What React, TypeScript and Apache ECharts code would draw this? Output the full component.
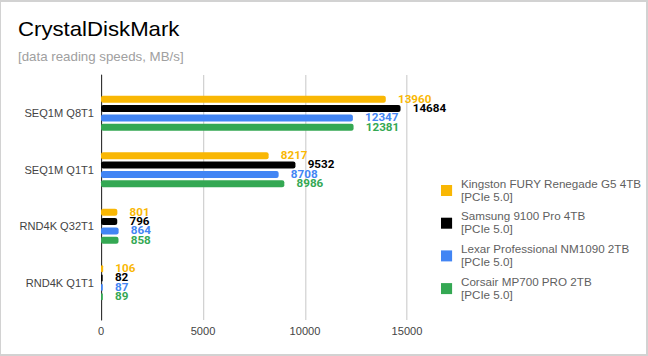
import React, { useEffect, useRef } from "react";
import * as echarts from "echarts";

const categories = ["SEQ1M Q8T1", "SEQ1M Q1T1", "RND4K Q32T1", "RND4K Q1T1"];
const seriesNames = [
  "Kingston FURY Renegade G5 4TB\n[PCIe 5.0]",
  "Samsung 9100 Pro 4TB\n[PCIe 5.0]",
  "Lexar Professional NM1090 2TB\n[PCIe 5.0]",
  "Corsair MP700 PRO 2TB\n[PCIe 5.0]",
];
const kingston = [13960, 8217, 801, 106];
const samsung = [14684, 9532, 796, 82];
const lexar = [12347, 8708, 864, 87];
const corsair = [12381, 8986, 858, 89];
const colors = ["#f9b704", "#000000", "#4285f4", "#34a853"];
const xTicks = { min: 0, max: 15000, interval: 5000 };

const SX = 1.11;
const W = 648;
const H = 356;

export default function App() {
  const ref = useRef<HTMLDivElement>(null);
  useEffect(() => {
    const chart = echarts.init(ref.current!, null, { renderer: "svg" });
    const values = [kingston, samsung, lexar, corsair];
    const font = "Arial, 'Liberation Sans', sans-serif";
    chart.setOption({
      animation: false,
      backgroundColor: "#ffffff",
      title: [
        {
          text: "CrystalDiskMark",
          left: 18 / SX,
          top: 19,
          padding: 0,
          textStyle: { fontSize: 20, fontWeight: "normal", color: "#000", fontFamily: font },
        },
        {
          text: "[data reading speeds, MB/s]",
          left: 18 / SX,
          top: 51,
          padding: 0,
          textStyle: { fontSize: 12, fontWeight: "normal", color: "#a0a0a0", fontFamily: font },
        },
      ],
      legend: {
        orient: "vertical",
        left: 441 / SX,
        top: 171,
        padding: 0,
        itemWidth: 10,
        itemHeight: 11,
        itemGap: -6.3,
        icon: "rect",
        data: seriesNames,
        textStyle: {
          fontSize: 10.5,
          color: "#5f5f5f",
          fontFamily: font,
          lineHeight: 13,
          padding: [13, 0, 0, 3],
        },
      },
      grid: [
        { left: 101 / SX, top: 85, width: 306 / SX, height: 226, containLabel: false },
        { left: 101 / SX, top: 75, width: 306 / SX, height: 245, containLabel: false },
      ],
      xAxis: [
        { type: "value", gridIndex: 0, ...xTicks, show: false },
        {
          type: "value",
          gridIndex: 1,
          ...xTicks,
          axisLine: { show: false },
          axisTick: { show: false },
          splitLine: { show: true, lineStyle: { color: "#cccccc", width: 1 } },
          axisLabel: {
            fontSize: 10,
            color: "#444",
            fontFamily: font,
            margin: 6,
            formatter: (v: number) => String(v),
          },
        },
      ],
      yAxis: [
        {
          type: "category",
          gridIndex: 0,
          data: categories,
          inverse: true,
          axisLine: { show: false },
          axisTick: { show: false },
          splitLine: { show: false },
          axisLabel: { fontSize: 10, color: "#444", fontFamily: font, margin: 6.3 },
        },
        {
          type: "category",
          gridIndex: 1,
          data: categories,
          inverse: true,
          axisLine: { show: true, lineStyle: { color: "#333", width: 1 } },
          axisTick: { show: false },
          splitLine: { show: false },
          axisLabel: { show: false },
        },
      ],
      series: seriesNames.map((name, i) => ({
        name,
        type: "bar",
        xAxisIndex: 0,
        yAxisIndex: 0,
        data: values[i],
        barWidth: 7,
        barGap: "33%",
        itemStyle: { color: colors[i], borderRadius: 2 },
        label: {
          show: true,
          position: "right",
          distance: 11,
          color: colors[i],
          fontWeight: "bold",
          fontSize: 10.5,
          lineHeight: 9,
          fontFamily: "Roboto, Arial, sans-serif",
        },
      })),
    });
    return () => chart.dispose();
  }, []);
  return (
    <div
      style={{
        position: "fixed",
        left: 0,
        top: 0,
        width: W,
        height: H,
        overflow: "hidden",
        background: "#fff",
      }}
    >
      <div
        ref={ref}
        style={{ width: W / SX, height: H, transform: `scaleX(${SX})`, transformOrigin: "0 0" }}
      />
      <div
        style={{
          position: "absolute",
          left: 0,
          top: 0,
          width: W,
          height: H,
          boxSizing: "border-box",
          borderTop: "2px solid #d2d2d2",
          borderLeft: "1px solid #d2d2d2",
          borderRight: "2px solid #d2d2d2",
          borderBottom: "2px solid #d2d2d2",
          pointerEvents: "none",
        }}
      />
    </div>
  );
}
